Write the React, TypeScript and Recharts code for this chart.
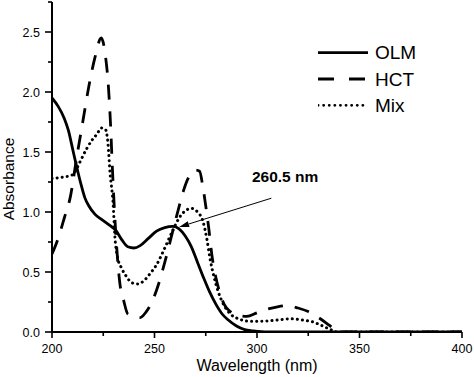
import { LineChart, Line, XAxis, YAxis, Legend, ReferenceLine, ReferenceDot } from "recharts"

const olmNm = [200, 203, 206, 208, 210, 212, 214, 216, 218, 221, 224, 228, 231, 234, 237, 240, 243, 247, 251, 255, 259, 262, 265, 268, 271, 274, 277, 280, 283, 286, 290, 294, 298, 305, 350, 400]
const olmAbs = [1.95, 1.88, 1.78, 1.68, 1.53, 1.38, 1.24, 1.12, 1.05, 0.98, 0.94, 0.89, 0.85, 0.77, 0.71, 0.7, 0.72, 0.78, 0.84, 0.87, 0.88, 0.86, 0.8, 0.71, 0.58, 0.45, 0.33, 0.23, 0.15, 0.1, 0.05, 0.02, 0.01, 0, 0, 0]

const hctNm = [200, 203, 206, 209, 212, 215, 218, 221, 224, 226, 227.5, 228.5, 229.5, 230.5, 231.5, 233, 235, 237, 240, 243, 246, 249, 252, 255, 258, 261, 264, 267, 270, 272, 273.5, 275, 276.5, 278, 280, 282, 284, 287, 290, 295, 300, 305, 310, 315, 320, 325, 330, 335, 339, 341, 400]
const hctAbs = [0.65, 0.78, 0.95, 1.13, 1.45, 1.75, 2.05, 2.29, 2.45, 2.31, 2.05, 1.75, 1.35, 1.0, 0.72, 0.42, 0.26, 0.15, 0.13, 0.12, 0.17, 0.26, 0.4, 0.58, 0.78, 0.98, 1.17, 1.3, 1.35, 1.34, 1.22, 1.05, 0.86, 0.64, 0.45, 0.32, 0.23, 0.17, 0.14, 0.13, 0.16, 0.19, 0.21, 0.22, 0.2, 0.17, 0.12, 0.06, 0.01, 0, 0]

const mixNm = [200, 205, 210, 212, 214, 217, 220, 222, 224, 226, 227.3, 228.3, 229.8, 230.7, 232, 234, 236, 239, 242, 245, 248, 251, 255, 259, 262, 265, 268, 271, 273.5, 275.5, 277, 279, 281, 284, 287, 291, 296, 302, 310, 316, 322, 328, 332, 336, 339, 400]
const mixAbs = [1.28, 1.29, 1.31, 1.36, 1.43, 1.53, 1.61, 1.65, 1.7, 1.69, 1.57, 1.33, 1.07, 0.79, 0.62, 0.53, 0.47, 0.41, 0.4, 0.43, 0.49, 0.56, 0.7, 0.85, 0.95, 1.01, 1.03, 1.0, 0.93, 0.78, 0.62, 0.46, 0.34, 0.22, 0.15, 0.11, 0.09, 0.09, 0.1, 0.11, 0.1, 0.08, 0.05, 0.02, 0, 0]

const xTicks = [200, 225, 250, 275, 300, 325, 350, 375, 400]
const yTicks = [0, 0.25, 0.5, 0.75, 1, 1.25, 1.5, 1.75, 2, 2.25, 2.5, 2.75]
const seriesNames = ["OLM", "HCT", "Mix"]
const peakLabel = "260.5 nm"

const toRows = (nm: number[], abs: number[]) => nm.map((v, i) => ({ nm: v, abs: abs[i] }))

const font = "'Liberation Sans', Arial, sans-serif"

const lineStyles = [
  { strokeDasharray: undefined, strokeLinecap: "butt" },
  { strokeDasharray: "15 12", strokeLinecap: "butt" },
  { strokeDasharray: "0.1 5", strokeLinecap: "round" },
]
const legendDash = [undefined, "16 15", "0.1 5.5"]

const XTick = ({ x, y, payload }: any) => {
  const major = payload.value % 50 === 0
  return (
    <g>
      <line x1={x} x2={x} y1={y} y2={y + (major ? 6 : 4)} stroke="#000" strokeWidth={1.6} />
      {major && (
        <text x={x} y={y + 21} textAnchor="middle" fontSize={12.5} fontFamily={font} fill="#000">
          {payload.value}
        </text>
      )}
    </g>
  )
}

const YTick = ({ x, y, payload }: any) => {
  const major = Math.round(payload.value * 100) % 50 === 0
  return (
    <g>
      <line x1={x - (major ? 7 : 4)} x2={x} y1={y} y2={y} stroke="#000" strokeWidth={1.6} />
      {major && (
        <text x={x - 12} y={y + 4.5} textAnchor="end" fontSize={12.5} fontFamily={font} fill="#000">
          {payload.value.toFixed(1)}
        </text>
      )}
    </g>
  )
}

const Arrow = ({ x1, y1, x2, y2 }: any) => {
  // tail is the first point, head the second
  const ang = Math.atan2(y2 - y1, x2 - x1)
  const len = 10
  const w = 3
  const bx = x2 - len * Math.cos(ang)
  const by = y2 - len * Math.sin(ang)
  const px = -Math.sin(ang) * w
  const py = Math.cos(ang) * w
  return (
    <g>
      <line x1={x1} y1={y1} x2={bx} y2={by} stroke="#000" strokeWidth={1} />
      <path d={`M${x2},${y2} L${bx + px},${by + py} L${bx - px},${by - py} Z`} fill="#000" />
    </g>
  )
}

const renderLegend = () => (
  <svg width={140} height={80}>
    {seriesNames.map((name, i) => (
      <g key={name}>
        <line
          x1={0}
          x2={50}
          y1={14.7 + i * 26.3}
          y2={14.7 + i * 26.3}
          stroke="#000"
          strokeWidth={2.8}
          strokeDasharray={legendDash[i]}
          strokeLinecap={i === 2 ? "round" : "butt"}
        />
        <text x={57} y={21.3 + i * 26.3} fontSize={19} fontFamily={font} fill="#000">
          {name}
        </text>
      </g>
    ))}
  </svg>
)

export default function App() {
  const series = [toRows(olmNm, olmAbs), toRows(hctNm, hctAbs), toRows(mixNm, mixAbs)]
  return (
    <div style={{ position: "absolute", left: 0, top: 0, width: 474, height: 377, background: "#fff" }}>
      <LineChart width={474} height={377} margin={{ top: 2, right: 12, bottom: 0, left: 0 }}>
        <XAxis
          type="number"
          dataKey="nm"
          domain={[200, 400]}
          ticks={xTicks}
          interval={0}
          height={45}
          tickSize={0}
          tickMargin={0}
          tickLine={false}
          axisLine={{ stroke: "#000", strokeWidth: 2 }}
          tick={<XTick />}
          allowDataOverflow
          label={({ viewBox }: any) => (
            <text x={viewBox.x + viewBox.width / 2} y={viewBox.y + 39} textAnchor="middle" fontSize={16} fontFamily={font} fill="#000">
              Wavelength (nm)
            </text>
          )}
        />
        <YAxis
          type="number"
          domain={[0, 2.75]}
          ticks={yTicks}
          interval={0}
          width={52}
          tickSize={0}
          tickMargin={0}
          tickLine={false}
          axisLine={{ stroke: "#000", strokeWidth: 2 }}
          tick={<YTick />}
          allowDataOverflow
          label={({ viewBox }: any) => {
            const cx = 14
            const cy = viewBox.y + viewBox.height / 2 + 12
            return (
              <text x={cx} y={cy} transform={`rotate(-90, ${cx}, ${cy})`} textAnchor="middle" fontSize={15.5} fontFamily={font} fill="#000">
                Absorbance
              </text>
            )
          }}
        />
        <Legend
          layout="vertical"
          align="center"
          verticalAlign="middle"
          wrapperStyle={{ top: 38, left: 318, width: 140, height: 80 }}
          content={renderLegend}
        />
        {series.map((rows, i) => (
          <Line
            key={seriesNames[i]}
            data={rows}
            dataKey="abs"
            name={seriesNames[i]}
            type="monotone"
            stroke="#000"
            strokeWidth={i === 2 ? 3 : 2.8}
            strokeDasharray={lineStyles[i].strokeDasharray}
            strokeLinecap={lineStyles[i].strokeLinecap as any}
            dot={false}
            activeDot={false}
            isAnimationActive={false}
          />
        ))}
        <ReferenceLine
          segment={[
            { x: 307, y: 1.115 },
            { x: 262, y: 0.875 },
          ]}
          shape={<Arrow />}
        />
        <ReferenceDot
          x={313.7}
          y={1.25}
          r={0}
          shape={({ cx, cy }: any) => (
            <text x={cx} y={cy} textAnchor="middle" fontSize={15.5} fontWeight="bold" fontFamily={font} fill="#000">
              {peakLabel}
            </text>
          )}
        />
      </LineChart>
    </div>
  )
}
